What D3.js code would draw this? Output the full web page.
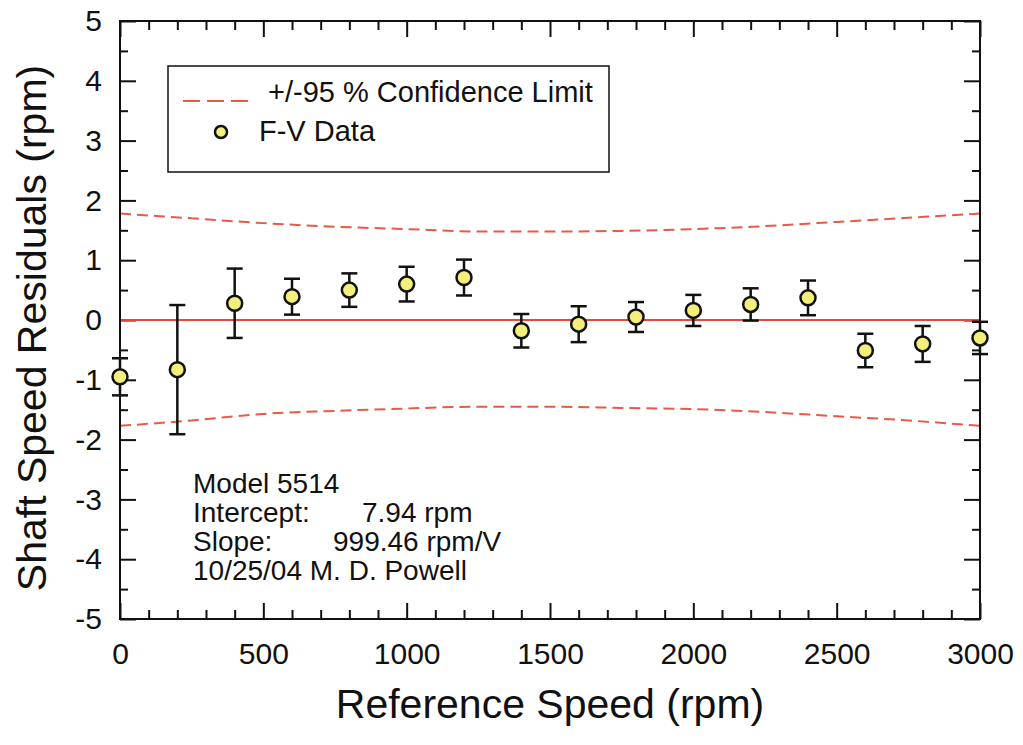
<meta charset="utf-8">
<style>
  body { margin: 0; background: #fff; }
  text { font-family: "Liberation Sans", Arial, sans-serif; fill: #111; }
  .frame { fill: none; stroke: #111; stroke-width: 2px; }
  .axis path { display: none; }
  .axis line { stroke: #111; stroke-width: 2px; }
  .axis text { font-size: 30px; font-family: "Liberation Sans", Arial, sans-serif; fill: #111; }
  .zero { stroke: #e8473b; stroke-width: 2px; }
  .conf { fill: none; stroke: #e85a45; stroke-width: 2px; stroke-dasharray: 11,6; }
  .err { stroke: #111; stroke-width: 2.5px; }
  .dot { fill: #f4ef7a; stroke: #111; stroke-width: 2.5px; }
</style>
<script src="https://cdn.jsdelivr.net/npm/d3@7"></script>
<svg id="chart" width="1023" height="745"></svg>
<script>
  // F-V data: residuals and their error bars (half width)
  var speeds = [0, 200, 400, 600, 800, 1000, 1200, 1400, 1600, 1800, 2000, 2200, 2400, 2600, 2800, 3000];
  var residuals = [-0.95, -0.83, 0.28, 0.39, 0.50, 0.60, 0.71, -0.18, -0.07, 0.05, 0.16, 0.26, 0.37, -0.51, -0.40, -0.30];
  var errors = [0.31, 1.08, 0.58, 0.30, 0.28, 0.29, 0.30, 0.28, 0.30, 0.25, 0.26, 0.27, 0.29, 0.28, 0.30, 0.27];

  // +/-95 % confidence limits
  var confSpeeds = [0, 250, 500, 750, 1000, 1250, 1500, 1750, 2000, 2250, 2500, 2750, 3000];
  var confUpper = [1.78, 1.70, 1.62, 1.56, 1.52, 1.48, 1.48, 1.49, 1.52, 1.57, 1.64, 1.71, 1.78];
  var confLower = [-1.77, -1.68, -1.57, -1.52, -1.48, -1.45, -1.45, -1.47, -1.49, -1.54, -1.61, -1.68, -1.77];

  var xTicks = [0, 500, 1000, 1500, 2000, 2500, 3000];
  var yTicks = [-5, -4, -3, -2, -1, 0, 1, 2, 3, 4, 5];

  var notes = ["Model 5514", "Intercept:", "Slope:", "10/25/04 M. D. Powell"];
  var noteValues = ["", "7.94 rpm", "999.46 rpm/V", ""];

  var svg = d3.select('#chart');
  var pLeft = 120, pRight = 980, pTop = 21, pBottom = 619;

  var x = d3.scaleLinear().domain([0, 3000]).range([pLeft, pRight]);
  var y = d3.scaleLinear().domain([-5, 5]).range([pBottom, pTop]);

  var minorX = d3.range(0, 3001, 100).filter(function(d){ return d % 500 != 0; });
  var minorY = d3.range(-5, 5.01, 0.5).filter(function(d){ return d % 1 != 0; });
  var plain = function(d){ return String(d); };   // hyphen minus, like the original

  // ticks point inward on all four sides
  svg.append('g').attr('class', 'axis')
    .attr('transform', 'translate(0,' + pBottom + ')')
    .call(d3.axisBottom(x).tickValues(xTicks).tickSize(-16).tickPadding(24).tickFormat(plain));
  svg.append('g').attr('class', 'axis')
    .attr('transform', 'translate(0,' + pBottom + ')')
    .call(d3.axisBottom(x).tickValues(minorX).tickSize(-9).tickFormat(''));
  svg.append('g').attr('class', 'axis')
    .attr('transform', 'translate(0,' + pTop + ')')
    .call(d3.axisTop(x).tickValues(xTicks).tickSize(-16).tickFormat(''));
  svg.append('g').attr('class', 'axis')
    .attr('transform', 'translate(0,' + pTop + ')')
    .call(d3.axisTop(x).tickValues(minorX).tickSize(-9).tickFormat(''));

  svg.append('g').attr('class', 'axis')
    .attr('transform', 'translate(' + pLeft + ',0)')
    .call(d3.axisLeft(y).tickValues(yTicks).tickSize(-16).tickPadding(18).tickFormat(plain));
  svg.append('g').attr('class', 'axis')
    .attr('transform', 'translate(' + pLeft + ',0)')
    .call(d3.axisLeft(y).tickValues(minorY).tickSize(-8).tickFormat(''));
  svg.append('g').attr('class', 'axis')
    .attr('transform', 'translate(' + pRight + ',0)')
    .call(d3.axisRight(y).tickValues(yTicks).tickSize(-16).tickFormat(''));
  svg.append('g').attr('class', 'axis')
    .attr('transform', 'translate(' + pRight + ',0)')
    .call(d3.axisRight(y).tickValues(minorY).tickSize(-8).tickFormat(''));

  // zero line
  svg.append('line').attr('class', 'zero')
    .attr('x1', x(0)).attr('x2', x(3000))
    .attr('y1', y(0)).attr('y2', y(0));

  // confidence limits
  var confLine = d3.line().curve(d3.curveMonotoneX)
    .x(function(d){ return x(d[0]); })
    .y(function(d){ return y(d[1]); });
  svg.append('path').attr('class', 'conf')
    .attr('d', confLine(d3.zip(confSpeeds, confUpper)));
  svg.append('path').attr('class', 'conf')
    .attr('d', confLine(d3.zip(confSpeeds, confLower)));

  svg.append('rect').attr('class', 'frame')
    .attr('x', pLeft).attr('y', pTop)
    .attr('width', pRight - pLeft).attr('height', pBottom - pTop);

  // error bars and points
  var pts = speeds.map(function(s, i){ return {x: s, y: residuals[i], e: errors[i]}; });
  var eb = svg.append('g').selectAll('g').data(pts).enter().append('g');
  eb.append('line').attr('class', 'err')
    .attr('x1', function(d){ return x(d.x); }).attr('x2', function(d){ return x(d.x); })
    .attr('y1', function(d){ return y(d.y + d.e); }).attr('y2', function(d){ return y(d.y - d.e); });
  eb.append('line').attr('class', 'err')
    .attr('x1', function(d){ return x(d.x) - 8; }).attr('x2', function(d){ return x(d.x) + 8; })
    .attr('y1', function(d){ return y(d.y + d.e); }).attr('y2', function(d){ return y(d.y + d.e); });
  eb.append('line').attr('class', 'err')
    .attr('x1', function(d){ return x(d.x) - 8; }).attr('x2', function(d){ return x(d.x) + 8; })
    .attr('y1', function(d){ return y(d.y - d.e); }).attr('y2', function(d){ return y(d.y - d.e); });
  eb.append('circle').attr('class', 'dot')
    .attr('cx', function(d){ return x(d.x); })
    .attr('cy', function(d){ return y(d.y); })
    .attr('r', 7.5);

  // legend
  var lg = svg.append('g');
  lg.append('rect').attr('x', 168).attr('y', 66).attr('width', 441).attr('height', 106)
    .attr('fill', '#fff').attr('stroke', '#111').attr('stroke-width', 1.5);
  lg.append('line').attr('class', 'conf').style('stroke-dasharray', '17,7')
    .attr('x1', 183).attr('x2', 249).attr('y1', 101).attr('y2', 101);
  lg.append('text').attr('x', 268).attr('y', 102).style('font-size', '29px')
    .text('+/-95 % Confidence Limit');
  lg.append('circle').attr('class', 'dot').attr('cx', 221).attr('cy', 132).attr('r', 6)
    .style('stroke-width', '2.5px');
  lg.append('text').attr('x', 259).attr('y', 141).style('font-size', '29px')
    .text('F-V Data');

  // fit notes
  var ng = svg.append('g').style('font-size', '28px');
  notes.forEach(function(t, i){
    ng.append('text').attr('x', 193).attr('y', 493 + i * 29).text(t);
  });
  ng.append('text').attr('x', 362).attr('y', 522).text(noteValues[1]);
  ng.append('text').attr('x', 333).attr('y', 551).text(noteValues[2]);

  // axis titles
  svg.append('text').attr('x', 550).attr('y', 718).attr('text-anchor', 'middle')
    .style('font-size', '41px').text('Reference Speed (rpm)');
  svg.append('text').attr('transform', 'translate(46,328) rotate(-90)')
    .attr('text-anchor', 'middle')
    .style('font-size', '41px').text('Shaft Speed Residuals (rpm)');
</script>
